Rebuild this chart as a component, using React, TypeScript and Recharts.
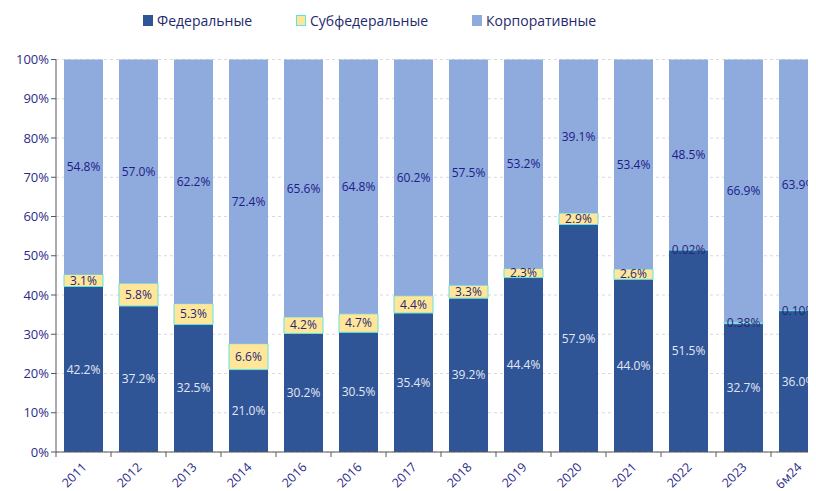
import React from "react";
import { Bar, BarChart, CartesianGrid, LabelList, Legend, XAxis, YAxis } from "recharts";

const years = ["2011", "2012", "2013", "2014", "2016", "2016", "2017", "2018", "2019", "2020", "2021", "2022", "2023", "6м24"];
const federal = [42.2, 37.2, 32.5, 21.0, 30.2, 30.5, 35.4, 39.2, 44.4, 57.9, 44.0, 51.5, 32.7, 36.0];
const subfederal = [3.1, 5.8, 5.3, 6.6, 4.2, 4.7, 4.4, 3.3, 2.3, 2.9, 2.6, 0.02, 0.38, 0.1];
const corporate = [54.8, 57.0, 62.2, 72.4, 65.6, 64.8, 60.2, 57.5, 53.2, 39.1, 53.4, 48.5, 66.9, 63.9];
const yTicks = [0, 0.1, 0.2, 0.3, 0.4, 0.5, 0.6, 0.7, 0.8, 0.9, 1];

const data = years.map((year, i) => ({
  year,
  fed: federal[i],
  sub: subfederal[i],
  corp: corporate[i],
}));

const FONT = "'Open Sans', sans-serif";
const NAVY = "#2b2b8c";
const C_FED = "#2f5597";
const C_SUB = "#ffe699";
const C_SUB_EDGE = "#5fe3e0";
const C_CORP = "#8faadc";

const fmt = (v: number) => `${v < 1 ? v.toFixed(2) : v.toFixed(1)}%`;

function XTick(props: any) {
  const { x, y, payload, index, visibleTicksCount } = props;
  const half = payload.offset ?? 0;
  const last = index === visibleTicksCount - 1;
  return (
    <g>
      <line x1={x - half} x2={x - half} y1={y} y2={y + 5} stroke="#595959" />
      {last && <line x1={x + half} x2={x + half} y1={y} y2={y + 5} stroke="#595959" />}
      <text
        x={x + 4}
        y={y + 16}
        textAnchor="end"
        fill={NAVY}
        fontSize={12.5}
        fontFamily={FONT}
        transform={`rotate(-45, ${x + 4}, ${y + 16})`}
      >
        {payload.value}
      </text>
    </g>
  );
}

const legendItems = [
  { name: "Федеральные", fill: C_FED, stroke: C_FED },
  { name: "Субфедеральные", fill: C_SUB, stroke: C_SUB_EDGE },
  { name: "Корпоративные", fill: C_CORP, stroke: C_CORP },
];

function LegendContent() {
  return (
    <div style={{ display: "flex", paddingLeft: 127, paddingTop: 3, fontFamily: FONT, fontSize: 14, color: "#1f2a6b" }}>
      {legendItems.map((it) => (
        <div key={it.name} style={{ display: "flex", alignItems: "center", marginRight: 44 }}>
          <span
            style={{
              display: "inline-block",
              width: 8,
              height: 9,
              background: it.fill,
              border: `1px solid ${it.stroke}`,
              marginRight: 4,
            }}
          />
          {it.name}
        </div>
      ))}
    </div>
  );
}

export default function App() {
  return (
    <div style={{ width: 808, height: 483, overflow: "hidden", position: "relative" }}>
      <BarChart
        width={822}
        height={483}
        data={data}
        stackOffset="expand"
        margin={{ top: 0, right: 4, left: 8, bottom: 0 }}
      >
        <Legend verticalAlign="top" content={<LegendContent />} wrapperStyle={{ height: 51.5, top: 0 }} />
        <CartesianGrid vertical={false} stroke="#d9d9d9" strokeDasharray="3 3" />
        <XAxis
          dataKey="year"
          allowDuplicatedCategory
          height={39}
          tickLine={false}
          tickSize={0}
          tickMargin={0}
          stroke="#595959"
          tick={<XTick />}
          interval={0}
        />
        <YAxis
          width={40}
          domain={[0, 1]}
          ticks={yTicks}
          tickFormatter={(v: number) => `${Math.round(v * 100)}%`}
          stroke="#595959"
          tickSize={5}
          tick={{ fill: NAVY, fontSize: 13, fontFamily: FONT }}
        />
        <Bar dataKey="fed" stackId="a" fill={C_FED} barSize={39} isAnimationActive={false}>
          <LabelList dataKey="fed" position="center" formatter={fmt} fill="#e3e7f5" fontSize={12} fontFamily={FONT} />
        </Bar>
        <Bar dataKey="sub" stackId="a" fill={C_SUB} stroke={C_SUB_EDGE} strokeWidth={1} barSize={39} isAnimationActive={false}>
          <LabelList dataKey="sub" position="center" formatter={fmt} fill="#26267a" fontSize={12} fontFamily={FONT} />
        </Bar>
        <Bar dataKey="corp" stackId="a" fill={C_CORP} barSize={39} isAnimationActive={false}>
          <LabelList dataKey="corp" position="center" formatter={fmt} fill="#1c1c8a" fontSize={12} fontFamily={FONT} />
        </Bar>
      </BarChart>
    </div>
  );
}
